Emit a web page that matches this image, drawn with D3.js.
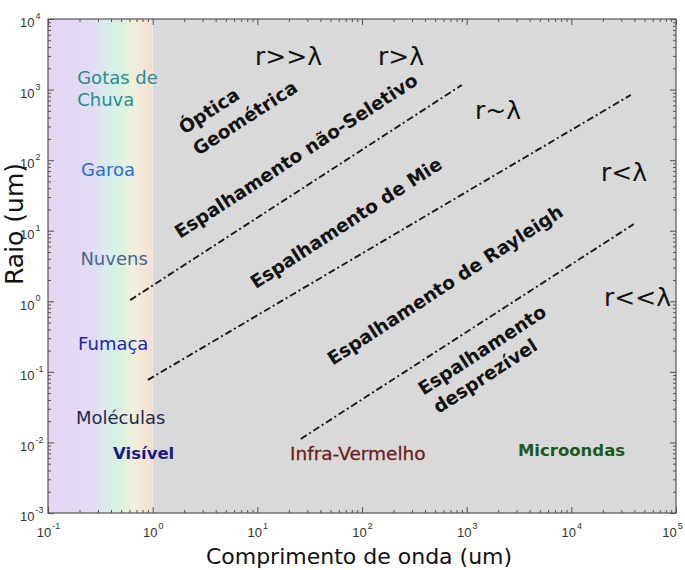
<!DOCTYPE html>
<html>
<head>
<meta charset="utf-8">
<script src="https://cdn.jsdelivr.net/npm/d3@7"></script>
<style>
  body { margin: 0; background: #fff; }
  svg { display: block; font-family: 'DejaVu Sans', sans-serif; }
  .tick text { font-family: 'Liberation Sans', Arial, sans-serif; font-size: 13px; fill: #333; }
  .domain { display: none; }
  .tick line { stroke: #555; }
</style>
</head>
<body>
<svg width="685" height="570"></svg>
<script>
// axis decades (powers of ten)
const xDecades = [-1, 0, 1, 2, 3, 4, 5];
const yDecades = [-3, -2, -1, 0, 1, 2, 3, 4];

// dash-dot boundaries between the scattering regimes: [start, end]
const boundaryLambda = [[0.61, 900], [0.9, 37000], [26, 39500]];
const boundaryRaio = [[1.04, 1160], [0.077, 840], [0.0112, 12.4]];

// particle types (left column)
const particleNames = ['Gotas de', 'Chuva', 'Garoa', 'Nuvens', 'Fumaça', 'Moléculas'];
const particleLambda = [0.19, 0.19, 0.207, 0.204, 0.194, 0.185];
const particleRaio = [1460, 712, 72.5, 4.1, 0.256, 0.0222];

// spectral bands (bottom row)
const bandNames = ['Visível', 'Infra-Vermelho', 'Microondas'];
const bandLambda = [0.418, 20.5, 3090];
const bandRaio = [0.00686, 0.00708, 0.00757];

// size vs wavelength regimes
const regimeNames = ['r>>λ', 'r>λ', 'r~λ', 'r<λ', 'r<<λ'];
const regimeLambda = [9.5, 142, 1200, 19200, 20500];
const regimeRaio = [2900, 2900, 498, 65.8, 1.15];

// scattering labels (rotated, centre points)
const scatterNames = ['Óptica', 'Geométrica', 'Espalhamento não-Seletivo', 'Espalhamento de Mie',
  'Espalhamento de Rayleigh', 'Espalhamento', 'desprezível'];
const scatterLambda = [3.45, 7.62, 23.4, 70.3, 621, 1400, 1500];
const scatterRaio = [498, 396, 115, 12.9, 1.70, 0.204, 0.0873];

const colors = {
  'Gotas de': '#1f9090', 'Chuva': '#1f9090', 'Garoa': '#2b6bd6', 'Nuvens': '#46668e',
  'Fumaça': '#2424b4', 'Moléculas': '#262650',
  'Visível': '#1a1a8c', 'Infra-Vermelho': '#6e1c1c', 'Microondas': '#1d5a1d'
};

const svg = d3.select('svg');

const x = d3.scaleLog().domain([0.1, 1e5]).range([48, 676]);
const y = d3.scaleLog().domain([1e-3, 1e4]).range([513, 19]);

// backgrounds: visible spectrum gradient then grey
const grad = svg.append('defs').append('linearGradient').attr('id', 'spec');
[[0, '#e6d6f3'], [0.42, '#e2dbf3'], [0.56, '#d8ebee'], [0.68, '#d9f1df'],
 [0.82, '#eff0da'], [0.93, '#f6e3d7'], [1, '#f2e0d6']].forEach(([o, c]) => {
  grad.append('stop').attr('offset', o).attr('stop-color', c);
});

svg.append('rect')
  .attr('x', x(1)).attr('y', y(1e4))
  .attr('width', x(1e5) - x(1)).attr('height', y(1e-3) - y(1e4))
  .attr('fill', '#d9d9d9');
svg.append('rect')
  .attr('x', x(0.1)).attr('y', y(1e4))
  .attr('width', x(1) - x(0.1)).attr('height', y(1e-3) - y(1e4))
  .attr('fill', 'url(#spec)');

// ticks
const majorX = xDecades.map((d) => Math.pow(10, d));
const majorY = yDecades.map((d) => Math.pow(10, d));
const minors = (decs) => {
  const out = [];
  decs.slice(0, -1).forEach((d) => {
    for (let k = 2; k <= 9; k++) out.push(k * Math.pow(10, d));
  });
  return out;
};
const minorX = minors(xDecades);
const minorY = minors(yDecades);

const supLabel = (sel, dx) => {
  sel.each(function (d) {
    const t = d3.select(this).text(null);
    t.append('tspan').text('10');
    t.append('tspan').attr('font-size', '9px').attr('dy', '-0.9em').attr('dx', dx)
      .text(Math.round(Math.log10(d)));
  });
};

svg.append('g').attr('transform', `translate(0,${y(1e-3)})`)
  .call(d3.axisBottom(x).tickValues(majorX).tickSizeInner(-6).tickSizeOuter(0).tickPadding(15))
  .call((g) => g.selectAll('.tick text').call(supLabel, 1))
  // keep the last label inside the page
  .call((g) => g.selectAll('.tick text').filter((d) => d === 1e5).attr('x', -4));
svg.append('g').attr('transform', `translate(0,${y(1e-3)})`)
  .call(d3.axisBottom(x).tickValues(minorX).tickSizeInner(-3).tickSizeOuter(0).tickFormat(''));

svg.append('g').attr('transform', `translate(0,${y(1e4)})`)
  .call(d3.axisTop(x).tickValues(majorX).tickSizeInner(-6).tickSizeOuter(0).tickFormat(''));
svg.append('g').attr('transform', `translate(0,${y(1e4)})`)
  .call(d3.axisTop(x).tickValues(minorX).tickSizeInner(-3).tickSizeOuter(0).tickFormat(''));

svg.append('g').attr('transform', `translate(${x(0.1)},0)`)
  .call(d3.axisLeft(y).tickValues(majorY).tickSizeInner(-6).tickSizeOuter(0).tickPadding(15))
  .call((g) => g.selectAll('.tick text').attr('dy', '0.6em').attr('x', -28).attr('text-anchor', 'start')
    .call(supLabel, 1));
svg.append('g').attr('transform', `translate(${x(0.1)},0)`)
  .call(d3.axisLeft(y).tickValues(minorY).tickSizeInner(-3).tickSizeOuter(0).tickFormat(''));

svg.append('g').attr('transform', `translate(${x(1e5)},0)`)
  .call(d3.axisRight(y).tickValues(majorY).tickSizeInner(-6).tickSizeOuter(0).tickFormat(''));
svg.append('g').attr('transform', `translate(${x(1e5)},0)`)
  .call(d3.axisRight(y).tickValues(minorY).tickSizeInner(-3).tickSizeOuter(0).tickFormat(''));

// frame
svg.append('rect')
  .attr('x', x(0.1)).attr('y', y(1e4))
  .attr('width', x(1e5) - x(0.1)).attr('height', y(1e-3) - y(1e4))
  .attr('fill', 'none').attr('stroke', '#555').attr('stroke-width', 1.2);

// boundaries
const line = d3.line().x((d) => x(d[0])).y((d) => y(d[1]));
svg.selectAll('.boundary')
  .data(boundaryLambda.map((l, i) => l.map((v, j) => [v, boundaryRaio[i][j]])))
  .enter().append('path')
  .attr('class', 'boundary')
  .attr('d', line)
  .attr('fill', 'none')
  .attr('stroke', '#1a1a1a')
  .attr('stroke-width', 1.9)
  .attr('stroke-dasharray', '7,3,2,3');

// particle labels
svg.selectAll('.particle')
  .data(particleNames)
  .enter().append('text')
  .attr('x', (d, i) => x(particleLambda[i]))
  .attr('y', (d, i) => y(particleRaio[i]))
  .attr('dominant-baseline', 'central')
  .attr('font-size', 18)
  .attr('fill', (d) => colors[d])
  .text((d) => d);

// band labels
svg.selectAll('.band')
  .data(bandNames)
  .enter().append('text')
  .attr('x', (d, i) => x(bandLambda[i]))
  .attr('y', (d, i) => y(bandRaio[i]))
  .attr('dominant-baseline', 'central')
  .attr('font-size', (d) => (d === 'Infra-Vermelho' ? 18.5 : 16.5))
  .attr('font-weight', (d) => (d === 'Infra-Vermelho' ? 'normal' : 'bold'))
  .attr('fill', (d) => colors[d])
  .attr('stroke', (d) => (d === 'Infra-Vermelho' ? colors[d] : 'none'))
  .attr('stroke-width', 0.3)
  .text((d) => d);

// regime labels
svg.selectAll('.regime')
  .data(regimeNames)
  .enter().append('text')
  .attr('x', (d, i) => x(regimeLambda[i]))
  .attr('y', (d, i) => y(regimeRaio[i]))
  .attr('dominant-baseline', 'central')
  .attr('font-size', 25)
  .attr('fill', '#111')
  .text((d) => d);

// scattering labels
svg.selectAll('.scatter')
  .data(scatterNames)
  .enter().append('text')
  .attr('transform', (d, i) => `translate(${x(scatterLambda[i])},${y(scatterRaio[i])}) rotate(-33)`)
  .attr('text-anchor', 'middle')
  .attr('dominant-baseline', 'central')
  .attr('font-size', 18.5)
  .attr('font-weight', 'bold')
  .attr('fill', '#111')
  .text((d) => d);

// axis titles
svg.append('text')
  .attr('x', 359).attr('y', 564)
  .attr('text-anchor', 'middle')
  .attr('font-size', 22)
  .attr('fill', '#111')
  .text('Comprimento de onda (um)');

svg.append('text')
  .attr('transform', 'translate(23,224) rotate(-90)')
  .attr('text-anchor', 'middle')
  .attr('font-size', 25)
  .attr('fill', '#111')
  .text('Raio (um)');
</script>
</body>
</html>
